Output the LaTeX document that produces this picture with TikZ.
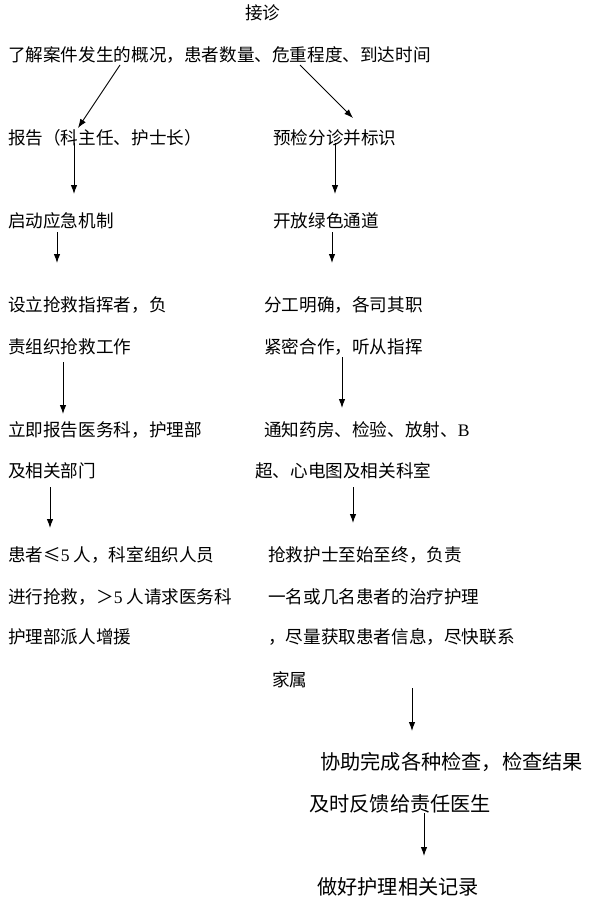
\documentclass[tikz,border=0pt]{standalone}
\usepackage{fontspec}
\setmainfont{Noto Sans CJK SC}
\newfontfamily\latn{Liberation Serif}
\usetikzlibrary{arrows.meta}
\tikzset{
  txt/.style={anchor=base west, inner sep=0pt, font=\fontsize{17.6}{20}\selectfont},
  txtbig/.style={txt, font=\fontsize{20.2}{23}\selectfont},
  arr/.style={line width=0.9pt, -{Latex[length=9pt,width=6.5pt]}}
}
\begin{document}
\begin{tikzpicture}[x=1pt,y=-1pt]
\useasboundingbox (0,0) rectangle (592,907);
% texts
\node[txt] (t0) at (245,19.5) {接诊};
\node[txt] (t1) at (8,61.5) {了解案件发生的概况，患者数量、危重程度、到达时间};
\node[txt] (l1) at (8,144.5) {报告（科主任、护士长）};
\node[txt] (r1) at (273,144.5) {预检分诊并标识};
\node[txt] (l2) at (8,227.5) {启动应急机制};
\node[txt] (r2) at (273,227.5) {开放绿色通道};
\node[txt] (l3a) at (8,311.5) {设立抢救指挥者，负};
\node[txt] (l3b) at (8,353.5) {责组织抢救工作};
\node[txt] (r3a) at (264,311.5) {分工明确，各司其职};
\node[txt] (r3b) at (264,353.5) {紧密合作，听从指挥};
\node[txt] (l4a) at (8,436.5) {立即报告医务科，护理部};
\node[txt] (l4b) at (8,477.5) {及相关部门};
\node[txt] (r4a) at (264,436.5) {通知药房、检验、放射、{\latn B}};
\node[txt] (r4b) at (255,477.5) {超、心电图及相关科室};
\node[txt] (l5a) at (8,561.5) {患者≤{\latn 5} 人，科室组织人员};
\node[txt] (l5b) at (8,603.5) {进行抢救，＞{\latn 5} 人请求医务科};
\node[txt] (l5c) at (8,643.5) {护理部派人增援};
\node[txt] (r5a) at (268,561.5) {抢救护士至始至终，负责};
\node[txt] (r5b) at (268,603.5) {一名或几名患者的治疗护理};
\node[txt] (r5c) at (268,643.5) {，尽量获取患者信息，尽快联系};
\node[txt] (r5d) at (272,686.5) {家属};
\node[txtbig] (r6a) at (320,769.5) {协助完成各种检查，检查结果};
\node[txtbig] (r6b) at (309,811.5) {及时反馈给责任医生};
\node[txtbig] (r7) at (317,894.5) {做好护理相关记录};
% arrow end points
\coordinate (a1s) at (120,65);  \coordinate (a1e) at (78,128);
\coordinate (a2s) at (300,65);  \coordinate (a2e) at (353,118);
\coordinate (a3s) at (74,143);  \coordinate (a3e) at (74,194);
\coordinate (a4s) at (335,143); \coordinate (a4e) at (335,194);
\coordinate (a5s) at (57,232);  \coordinate (a5e) at (57,263);
\coordinate (a6s) at (332,232); \coordinate (a6e) at (332,263);
\coordinate (a7s) at (63,362);  \coordinate (a7e) at (63,414);
\coordinate (a8s) at (342,357); \coordinate (a8e) at (342,408);
\coordinate (a9s) at (50,487);  \coordinate (a9e) at (50,528);
\coordinate (a10s) at (353,487); \coordinate (a10e) at (353,523);
\coordinate (a11s) at (412,688); \coordinate (a11e) at (412,731);
\coordinate (a12s) at (424,813); \coordinate (a12e) at (424,856);
\draw[arr] (a1s) -- (a1e);
\draw[arr] (a2s) -- (a2e);
\draw[arr] (a3s) -- (a3e);
\draw[arr] (a4s) -- (a4e);
\draw[arr] (a5s) -- (a5e);
\draw[arr] (a6s) -- (a6e);
\draw[arr] (a7s) -- (a7e);
\draw[arr] (a8s) -- (a8e);
\draw[arr] (a9s) -- (a9e);
\draw[arr] (a10s) -- (a10e);
\draw[arr] (a11s) -- (a11e);
\draw[arr] (a12s) -- (a12e);
\end{tikzpicture}
\end{document}
